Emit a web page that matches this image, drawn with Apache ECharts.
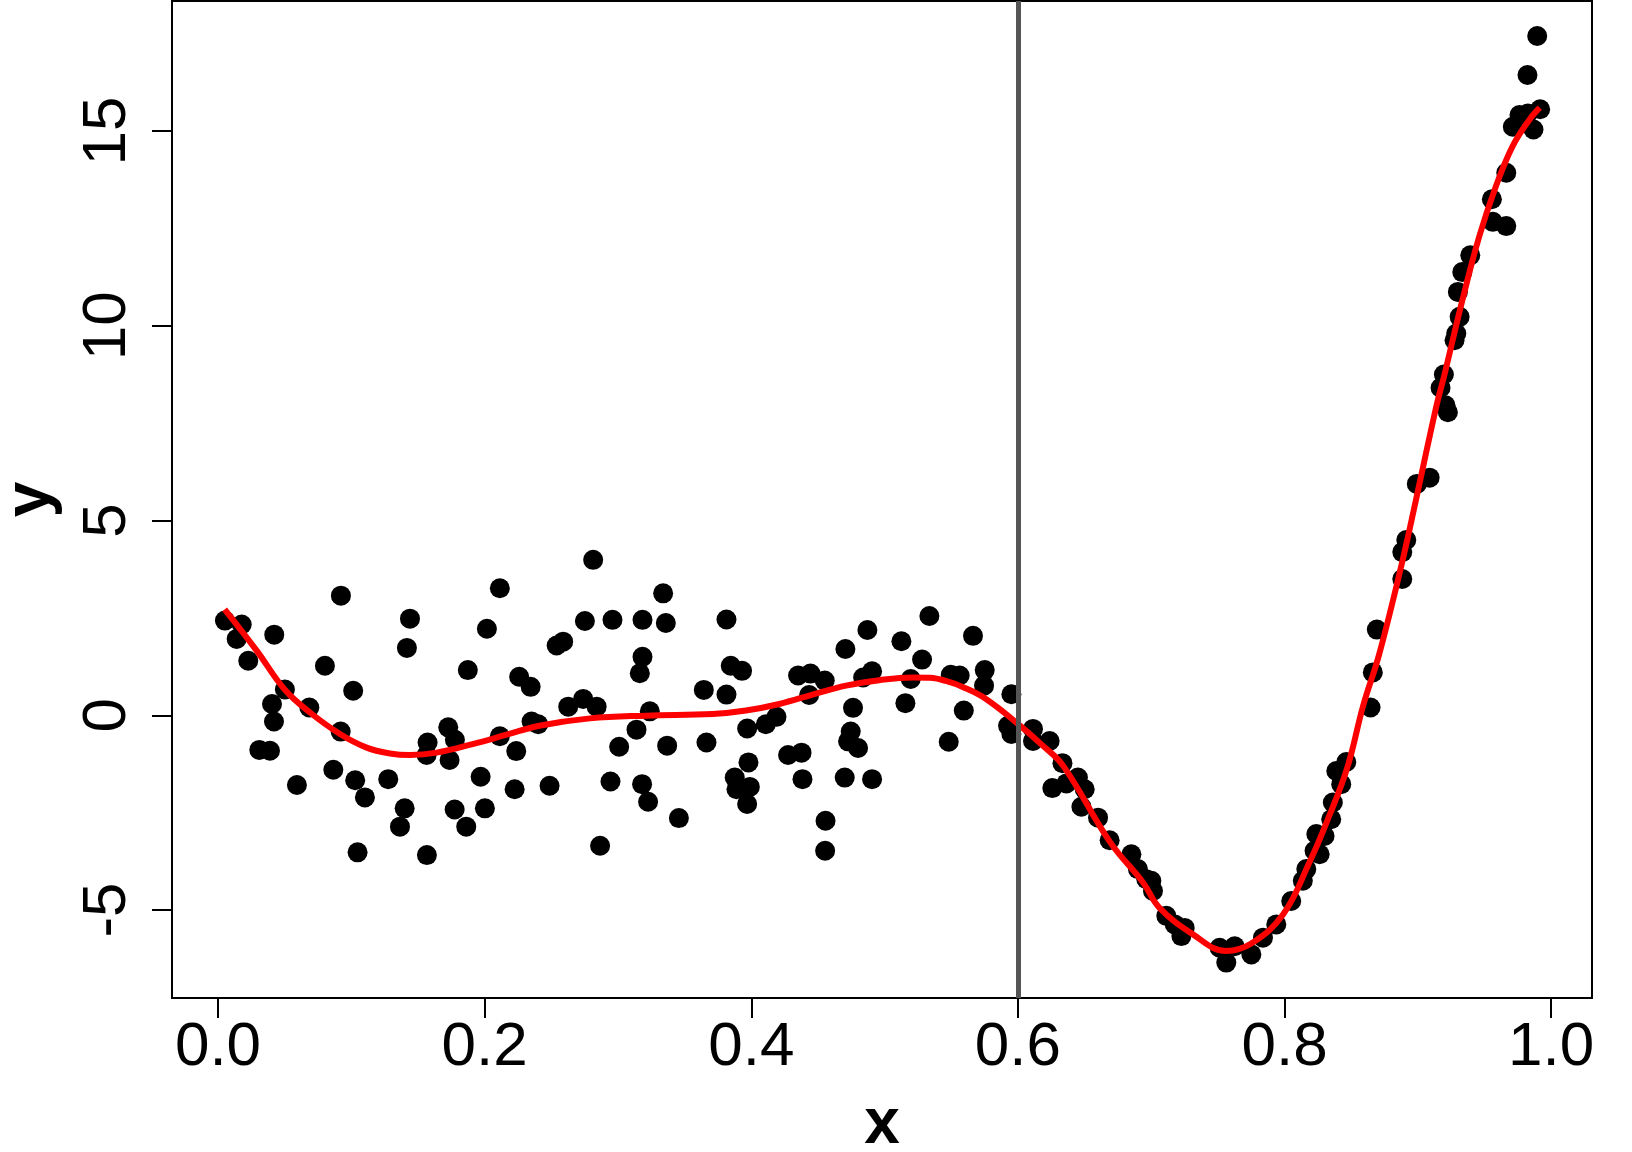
<!DOCTYPE html>
<html>
<head>
<meta charset="utf-8">
<script src="https://cdn.jsdelivr.net/npm/echarts@6/dist/echarts.min.js"></script>
<style>
html,body{margin:0;padding:0;background:#fff;}
#c{width:1632px;height:1152px;}
</style>
</head>
<body>
<div id="c"></div>
<script>
// ---- data ----
const pointX = [0.0052,0.0140,0.0178,0.0227,0.0310,0.0390,0.0405,0.0420,0.0422,0.0502,0.0592,0.0685,0.0802,0.0865,0.0920,0.0922,0.1014,0.1029,0.1047,0.1102,0.1277,0.1365,0.1400,0.1417,0.1440,0.1565,0.1567,0.1572,0.1727,0.1737,0.1775,0.1777,0.1862,0.1874,0.1970,0.2002,0.2017,0.2114,0.2114,0.2225,0.2237,0.2259,0.2345,0.2352,0.2402,0.2487,0.2540,0.2589,0.2627,0.2739,0.2752,0.2814,
0.2840,0.2866,0.2944,0.2959,0.3009,0.3139,0.3164,0.3181,0.3184,0.3184,0.3226,0.3239,0.3339,0.3359,0.3369,0.3457,0.3644,0.3664,0.3814,0.3814,0.3846,0.3876,0.3889,0.3931,0.3969,0.3969,0.3979,0.3989,0.4109,0.4189,0.4276,0.4351,0.4377,0.4384,0.4434,0.4444,0.4551,0.4554,0.4557,0.4701,0.4706,0.4726,0.4746,0.4763,0.4801,0.4839,0.4871,0.4906,0.4906,0.5126,0.5156,0.5196,0.5281,0.5336,0.5481,0.5496,0.5563,0.5594,0.5663,0.5751,0.5746,0.5926,0.5951,0.5951,
0.6113,0.6113,0.6238,0.6258,0.6334,0.6364,0.6450,0.6501,0.6476,0.6601,0.6688,0.6851,0.6900,0.6963,0.7001,0.7013,0.7113,0.7176,0.7251,0.7226,0.7513,0.7626,0.7563,0.7751,0.7838,0.7938,0.8050,0.8137,0.8163,0.8225,0.8263,0.8238,0.8300,0.8350,0.8362,0.8425,0.8388,0.8463,0.8645,0.8662,0.8692,0.8883,0.8883,0.8913,0.8992,0.9088,0.9170,0.9195,0.9207,0.9225,0.9275,0.9288,0.9313,0.9300,0.9333,0.9393,0.9555,0.9562,0.9663,0.9663,0.9712,0.9762,0.9825,0.9867,0.9917,0.9822,0.9895];
const pointY = [2.43,1.96,2.33,1.40,-0.89,-0.91,0.29,-0.16,2.07,0.66,-1.79,0.20,1.27,-1.40,-0.42,3.07,0.63,-1.67,-3.52,-2.11,-1.64,-2.86,-2.39,1.73,2.48,-1.02,-3.59,-0.70,-0.31,-1.15,-2.42,-0.63,-2.86,1.16,-1.58,-2.39,2.22,3.26,-0.54,-1.90,-0.92,0.99,0.73,-0.16,-0.23,-1.81,1.79,1.89,0.22,0.42,2.42,3.99,
0.22,-3.35,-1.70,2.45,-0.81,-0.37,1.08,-1.77,2.45,1.50,-2.22,0.10,3.13,2.37,-0.78,-2.64,0.65,-0.70,2.46,0.53,1.27,-1.60,-1.90,1.14,-0.34,-2.28,-1.21,-1.84,-0.23,-0.04,-1.02,1.02,-0.96,-1.64,0.52,1.07,0.89,-3.48,-2.71,-1.60,1.70,-0.67,-0.42,0.19,-0.84,0.97,2.19,1.13,-1.64,1.90,0.31,0.93,1.43,2.55,-0.68,1.04,1.02,0.12,2.04,1.16,0.76,-0.27,-0.48,0.54,
-0.35,-0.66,-0.66,-1.87,-1.23,-1.75,-1.60,-1.90,-2.35,-2.63,-3.21,-3.57,-3.95,-4.21,-4.25,-4.51,-5.15,-5.37,-5.46,-5.67,-5.97,-5.93,-6.35,-6.14,-5.71,-5.37,-4.77,-4.25,-3.95,-3.48,-3.57,-3.05,-3.10,-2.67,-2.24,-1.77,-1.43,-1.20,0.20,1.10,2.20,3.50,4.19,4.50,5.94,6.10,8.41,8.75,7.96,7.78,9.63,9.80,10.23,10.87,11.38,11.81,13.25,12.67,12.56,13.93,15.11,15.41,15.45,15.04,15.56,16.44,17.44];

const curveX = [0.005,0.029,0.050,0.069,0.0915,0.1115,0.129,0.144,0.164,0.191,0.2165,0.241,0.279,0.321,0.371,0.396,0.421,0.446,0.471,0.496,0.521,0.534,0.546,0.559,0.576,0.600,0.618,0.634,0.669,0.694,0.706,0.731,0.756,0.775,0.799,0.819,0.832,0.847,0.859,0.871,0.888,0.8987,0.9137,0.9196,0.9334,0.9459,0.9584,0.9709,0.9834,0.9914];
const curveY = [2.72,1.66,0.66,0.07,-0.48,-0.83,-0.98,-1.02,-0.96,-0.74,-0.50,-0.27,-0.08,-0.01,0.03,0.12,0.29,0.53,0.76,0.90,0.97,0.96,0.88,0.72,0.42,-0.22,-0.76,-1.30,-3.25,-4.30,-4.94,-5.62,-6.05,-5.86,-5.11,-3.75,-2.71,-1.35,0.25,1.57,3.90,5.55,7.91,8.70,10.66,12.28,13.57,14.60,15.28,15.60];

const cutX = 0.6;
const xTicks = [0, 0.2, 0.4, 0.6, 0.8, 1.0];
const xTickLabels = ['0.0', '0.2', '0.4', '0.6', '0.8', '1.0'];
const yTicks = [-5, 0, 5, 10, 15];
const yTickLabels = ['-5', '0', '5', '10', '15'];

// ---- build ----
const n = Math.min(pointX.length, pointY.length);
const points = [];
for (let i = 0; i < n; i++) points.push([pointX[i], pointY[i]]);
const curve = curveX.map((x, i) => [x, curveY[i]]);

const FONT = '"Liberation Sans", Arial, Helvetica, sans-serif';
const chart = echarts.init(document.getElementById('c'), null, {renderer: 'canvas', width: 1632, height: 1152});
chart.setOption({
  animation: false,
  backgroundColor: '#ffffff',
  grid: {left: 172, right: 40, top: 1, bottom: 154, containLabel: false, outerBoundsMode: 'none',
         show: true, borderColor: '#000', borderWidth: 2, backgroundColor: 'transparent'},
  xAxis: {
    type: 'value', min: -0.0345, max: 1.0306, position: 'bottom',
    axisLine: {show: false, onZero: false},
    splitLine: {show: false},
    axisTick: {show: true, customValues: xTicks, length: 20, inside: false, lineStyle: {color: '#000', width: 2}},
    axisLabel: {
      customValues: xTicks, margin: 19, fontSize: 62, fontFamily: FONT, color: '#000',
      formatter: v => { const i = xTicks.findIndex(t => Math.abs(t - v) < 1e-9); return i >= 0 ? xTickLabels[i] : ''; }
    },
    name: 'x', nameLocation: 'middle', nameGap: 95,
    nameTextStyle: {fontSize: 64, fontWeight: 'bold', fontFamily: FONT, color: '#000'}
  },
  yAxis: {
    type: 'value', min: -7.26, max: 18.34, position: 'left',
    axisLine: {show: false, onZero: false},
    splitLine: {show: false},
    axisTick: {show: true, customValues: yTicks, length: 20, inside: false, lineStyle: {color: '#000', width: 2}},
    axisLabel: {
      customValues: yTicks, rotate: 90, margin: 33, fontSize: 62, fontFamily: FONT, color: '#000',
      formatter: v => { const i = yTicks.findIndex(t => Math.abs(t - v) < 1e-9); return i >= 0 ? yTickLabels[i] : ''; }
    },
    name: 'y', nameLocation: 'middle', nameGap: 109, nameRotate: 90,
    nameTextStyle: {fontSize: 64, fontWeight: 'bold', fontFamily: FONT, color: '#000'}
  },
  series: [
    {
      type: 'scatter', data: points, symbol: 'circle', symbolSize: 20,
      itemStyle: {color: '#000', opacity: 1}, z: 2, silent: true
    },
    {
      type: 'line', data: [], z: 3, silent: true,
      markLine: {
        silent: true, symbol: ['none', 'none'], label: {show: false},
        lineStyle: {color: '#555555', width: 5, type: 'solid'},
        data: [{xAxis: cutX}]
      }
    },
    {
      type: 'line', data: curve, smooth: 0.4, showSymbol: false, z: 4, silent: true,
      lineStyle: {color: '#ff0000', width: 6}
    }
  ]
});
</script>
</body>
</html>
